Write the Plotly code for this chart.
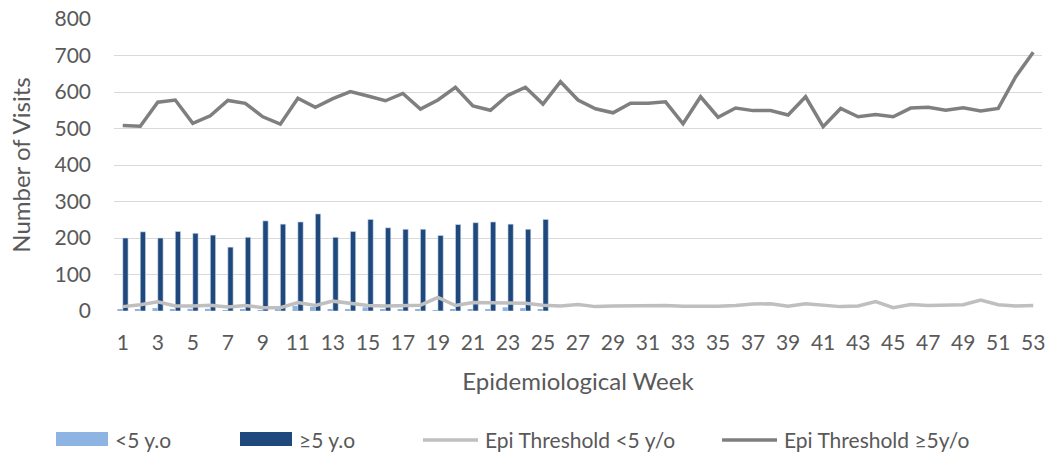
import plotly.graph_objects as go

weeks = list(range(1, 54))
under5 = [3, 5, 8, 3, 6, 6, 2, 3, 2, 3, 14, 11, 3, 4, 10, 4, 3, 3, 2, 4, 3, 5, 10, 8, 3]
over5 = [200, 217, 200, 218, 213, 208, 175, 202, 247, 238, 244, 266, 202, 218, 251,
         228, 224, 224, 207, 237, 242, 244, 238, 224, 251]
epi_under5 = [12, 17, 25, 14, 14, 16, 11, 15, 9, 9, 23, 15, 27, 21, 15, 14, 15, 16, 37, 15,
              23, 22, 21, 21, 16, 14, 18, 12, 14, 15, 14, 15, 13, 12, 13, 15, 19, 20, 13, 20,
              15, 12, 14, 26, 9, 18, 15, 16, 17, 30, 17, 14, 15]
epi_over5 = [508, 506, 572, 578, 514, 535, 577, 569, 532, 512, 583, 558, 582, 601, 589,
             576, 596, 553, 578, 613, 562, 550, 591, 613, 567, 628, 578, 554, 543, 569,
             569, 573, 513, 587, 531, 556, 549, 549, 537, 587, 505, 555, 532, 538, 532,
             556, 558, 550, 557, 548, 555, 642, 709]
x_ticks = list(range(1, 54, 2))

names = ["<5 y.o", "≥5 y.o", "Epi Threshold <5 y/o", "Epi Threshold ≥5y/o"]
colors = ["#8EB4E3", "#1F497D", "#BFBFBF", "#7F7F7F"]

font_family = "Lato"
txt = "#595959"

W, H = 1057, 454
L, R, T, B = 114, 15, 19, 143
PW, PH = W - L - R, H - T - B

def px(x):
    return (x - L) / PW

def py(y):
    return (H - B - y) / PH

fig = go.Figure()
fig.add_trace(go.Bar(x=weeks[:len(under5)], y=under5, name=names[0],
                     marker=dict(color=colors[0], line=dict(width=0))))
fig.add_trace(go.Bar(x=weeks[:len(over5)], y=over5, name=names[1],
                     marker=dict(color=colors[1], line=dict(width=0.6, color="#DCE6F2"))))
fig.add_trace(go.Scatter(x=weeks, y=epi_under5, name=names[2], mode="lines",
                         line=dict(color=colors[2], width=3.5)))
fig.add_trace(go.Scatter(x=weeks, y=epi_over5, name=names[3], mode="lines",
                         line=dict(color=colors[3], width=3.5)))

# Legend drawn like the original (wide swatches) with shapes + text annotations
legend_items = [
    ("rect", 56, 108, 113),
    ("rect", 240, 292, 297),
    ("line", 423, 478, 483),
    ("line", 722, 777, 782),
]
shapes, annotations = [], []
for (kind, x0, x1, tx), name, col in zip(legend_items, names, colors):
    if kind == "rect":
        shapes.append(dict(type="rect", xref="paper", yref="paper",
                           x0=px(x0), x1=px(x1), y0=py(446), y1=py(432),
                           fillcolor=col, line=dict(width=0), layer="above"))
    else:
        shapes.append(dict(type="line", xref="paper", yref="paper",
                           x0=px(x0), x1=px(x1), y0=py(440), y1=py(440),
                           line=dict(color=col, width=3.5), layer="above"))
    annotations.append(dict(text=name, xref="paper", yref="paper", x=px(tx), y=py(439),
                            xanchor="left", yanchor="middle", showarrow=False,
                            font=dict(family=font_family, size=21, color=txt)))

fig.update_layout(
    width=W, height=H,
    margin=dict(l=L, r=R, t=T, b=B, autoexpand=False),
    plot_bgcolor="white", paper_bgcolor="white",
    barmode="group", bargap=0.39, bargroupgap=0,
    showlegend=False,
    font=dict(family=font_family, size=21, color=txt),
    shapes=shapes, annotations=annotations,
    xaxis=dict(range=[0.5, 53.5], tickmode="array", tickvals=x_ticks,
               ticktext=[str(v) for v in x_ticks], showgrid=False, showline=False,
               zeroline=False, ticks="", automargin=False, ticklabelstandoff=17,
               tickfont=dict(family=font_family, size=21, color=txt),
               title=dict(text="Epidemiological Week",
                          font=dict(family=font_family, size=24, color=txt), standoff=20)),
    yaxis=dict(range=[0, 800], dtick=100, showgrid=True, gridcolor="#D9D9D9", gridwidth=1.3,
               zeroline=False, showline=False, ticks="", automargin=False,
               ticklabelstandoff=22,
               tickfont=dict(family=font_family, size=21, color=txt),
               title=dict(text="Number of Visits",
                          font=dict(family=font_family, size=24, color=txt), standoff=17)),
)

fig.write_html("out.html", config={"displayModeBar": False},
               post_script="document.body.style.margin='0';")
